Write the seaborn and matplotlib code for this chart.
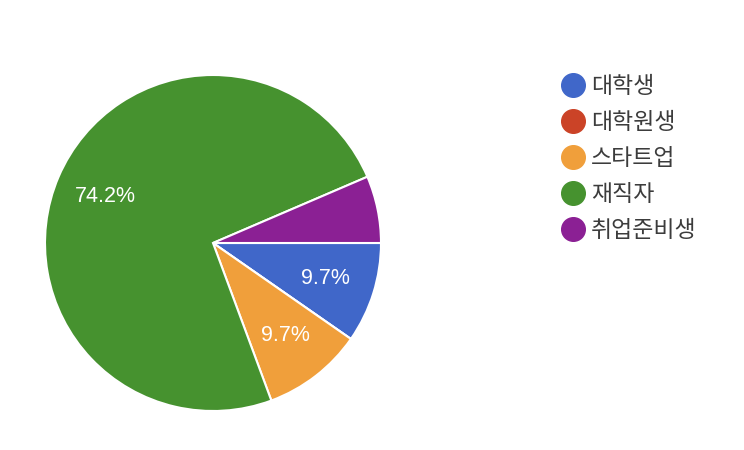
import matplotlib
matplotlib.use("Agg")
import matplotlib.pyplot as plt
from matplotlib.lines import Line2D
import seaborn as sns

# data (31 responses)
categories = ["대학생", "대학원생", "스타트업", "재직자", "취업준비생"]
counts = [3, 0, 3, 23, 2]
colors = ["#4067c9", "#cb4327", "#f09f3b", "#46922f", "#8b2094"]

sns.set_style("white")
plt.rcParams['font.family'] = ['Noto Sans CJK KR', 'DejaVu Sans']

fig = plt.figure(figsize=(7.44, 4.5), dpi=100)
ax = fig.add_axes([45 / 744, 39 / 450, 336 / 744, 336 / 450])


def pct_label(p):
    return f"{p:.1f}%" if p >= 9 else ""


wedges, texts, autotexts = ax.pie(
    counts, colors=colors, startangle=0, counterclock=False,
    autopct=pct_label, pctdistance=0.7, radius=1,
    wedgeprops=dict(edgecolor="white", linewidth=1.5),
    textprops=dict(color="white", fontsize=15.5, family=['Liberation Sans', 'DejaVu Sans']),
)
ax.set_xlim(-1, 1)
ax.set_ylim(-1, 1)
ax.set_aspect("equal")
ax.axis("off")

handles = [Line2D([0], [0], marker="o", linestyle="", markersize=17,
                  markerfacecolor=c, markeredgecolor=c) for c in colors]
fig.legend(handles, categories, loc="upper left", bbox_to_anchor=(553 / 744, 1 - 66 / 450),
           frameon=False, fontsize=16.5, labelspacing=0.57, handletextpad=0.3,
           labelcolor="#3c3c3c", handlelength=0.95, borderaxespad=0)

fig.savefig("out.png", dpi=100)
